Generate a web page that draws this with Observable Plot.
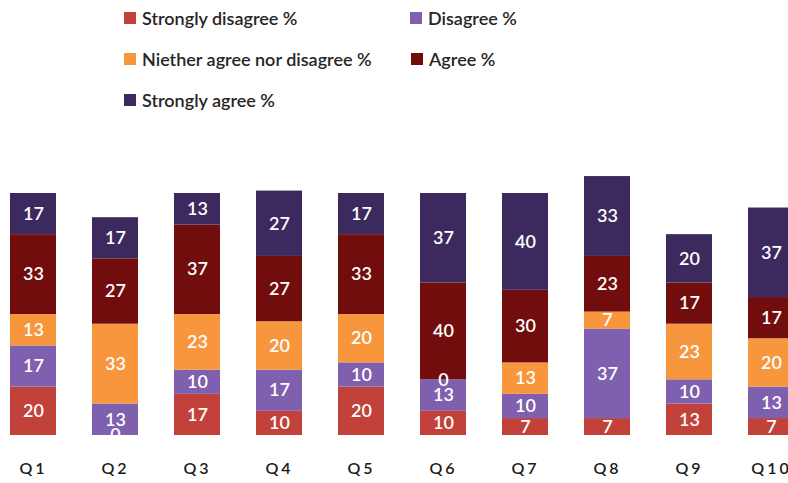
<!DOCTYPE html>
<html>
<head>
<meta charset="utf-8">
<script src="https://cdn.jsdelivr.net/npm/d3@7"></script>
<script src="https://cdn.jsdelivr.net/npm/@observablehq/plot@0.6"></script>
<style>
  body { margin: 0; background: #fff; width: 788px; height: 483px; overflow: hidden; font-family: Lato, "Open Sans", sans-serif; }
  #legend { position: relative; height: 140px; }
  .item { position: absolute; display: flex; align-items: center; font-size: 18px; color: #262626; font-weight: 600; white-space: nowrap; line-height: 1; }
  .sw { width: 12px; height: 12px; margin-right: 6px; }
  #chart svg { overflow: visible; }
</style>
</head>
<body>
<div id="legend"></div>
<div id="chart"></div>
<script>
const questions = ["Q1", "Q2", "Q3", "Q4", "Q5", "Q6", "Q7", "Q8", "Q9", "Q10"];
const seriesNames = ["Strongly disagree %", "Disagree %", "Niether agree nor disagree %", "Agree %", "Strongly agree %"];
const seriesColors = ["#c2413a", "#7f60ae", "#f7963c", "#710d0d", "#3c2a5e"];
const stronglyDisagree = [20, 0, 17, 10, 20, 10, 7, 7, 13, 7];
const disagree = [17, 13, 10, 17, 10, 13, 10, 37, 10, 13];
const neither = [13, 33, 23, 20, 20, 0, 13, 7, 23, 20];
const agree = [33, 27, 37, 27, 33, 40, 30, 23, 17, 17];
const stronglyAgree = [17, 17, 13, 27, 17, 37, 40, 33, 20, 37];

const seriesValues = [stronglyDisagree, disagree, neither, agree, stronglyAgree];
const data = [];
questions.forEach((q, i) => {
  seriesNames.forEach((s, j) => {
    data.push({q, series: s, value: seriesValues[j][i]});
  });
});

// legend (HTML, above the SVG)
const legendPos = [
  {x: 124, y: 18}, {x: 410, y: 18},
  {x: 124, y: 59}, {x: 411, y: 59},
  {x: 124, y: 100}
];
const legend = document.getElementById("legend");
seriesNames.forEach((s, j) => {
  const it = document.createElement("div");
  it.className = "item";
  it.style.left = legendPos[j].x + "px";
  it.style.top = (legendPos[j].y - 10) + "px";
  it.style.height = "20px";
  const sw = document.createElement("span");
  sw.className = "sw";
  sw.style.background = seriesColors[j];
  it.appendChild(sw);
  it.appendChild(document.createTextNode(s));
  legend.appendChild(it);
});

const H = 343;
const base = 295;
const chart = Plot.plot({
  width: 788,
  height: H,
  marginTop: 0,
  marginBottom: H - base,
  marginLeft: 0,
  marginRight: 0,
  style: {fontFamily: "Lato, 'Open Sans', sans-serif", background: "transparent", overflow: "visible"},
  x: {domain: questions, range: [-26.4, 831.3], padding: 0.434, label: null, tickSize: 0, tickPadding: 27},
  y: {domain: [0, 100], range: [base, base - 242], axis: null},
  color: {domain: seriesNames, range: seriesColors},
  marks: [
    Plot.barY(data, Plot.stackY({x: "q", y: "value", z: "series", fill: "series", order: null})),
    Plot.text(data, Plot.stackY({x: "q", y: "value", z: "series", order: null, text: d => String(d.value), fill: "white", fontSize: 18, fontWeight: 600})),
    Plot.axisX({tickSize: 0, tickPadding: 27, fontSize: 16, fontWeight: 600, fill: "#1a1a1a", label: null, tickFormat: d => d})
  ]
});
chart.querySelectorAll("g[aria-label='x-axis tick label'] text").forEach(t => t.setAttribute("letter-spacing", "3"));
document.getElementById("chart").appendChild(chart);
</script>
</body>
</html>
